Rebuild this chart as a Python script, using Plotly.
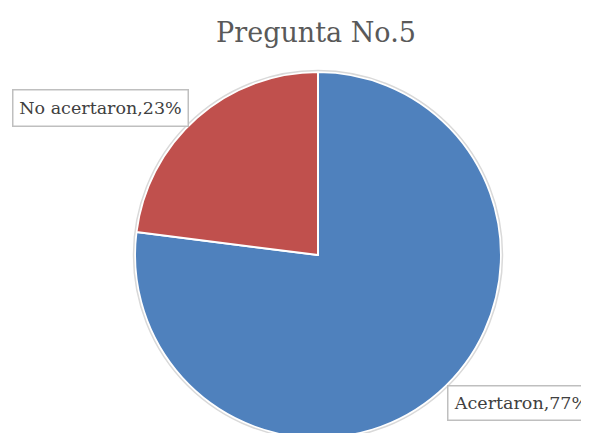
import plotly.graph_objects as go

W, H = 589, 433
OFF = 8  # the page body margin pushes the figure 8px right and down

labels = ["Acertaron", "No acertaron"]
values = [77, 23]
colors = ["#4F81BD", "#C0504D"]

# pie geometry in window pixels (the original pie is cropped at the bottom edge)
cx, cy, r = 318 - OFF, 255 - OFF, 183

fig = go.Figure(
    go.Pie(
        labels=labels,
        values=values,
        sort=False,
        direction="clockwise",
        rotation=0,
        marker=dict(colors=colors, line=dict(color="white", width=2)),
        textinfo="none",
        hoverinfo="label+percent",
        domain=dict(x=[(cx - r) / W, (cx + r) / W], y=[(H - cy - r) / H, (H - cy + r) / H]),
        showlegend=False,
    )
)

# thin gray ring round the pie
fig.add_shape(
    type="circle", xref="paper", yref="paper",
    x0=(cx - r - 1.5) / W, x1=(cx + r + 1.5) / W,
    y0=(H - cy - r - 1.5) / H, y1=(H - cy + r + 1.5) / H,
    line=dict(color="#D9D9D9", width=1.5),
)

total = sum(values)
# top-left corner of each label box, box width, box height
label_box = {"No acertaron": (12, 89, 174, 35), "Acertaron": (447, 385, 145, 33)}
for lab, val in zip(labels, values):
    bx, by, bw, bh = label_box[lab]
    fig.add_annotation(
        text=f"{lab},{round(val / total * 100)}%",
        xref="paper", yref="paper",
        x=(bx - OFF) / W, y=1 - (by - OFF) / H,
        xanchor="left", yanchor="top",
        width=bw, height=bh, align="center", valign="middle",
        showarrow=False,
        font=dict(family="DejaVu Serif", size=17.5, color="#404040"),
        bordercolor="#BFBFBF", borderwidth=1.5, borderpad=0,
        bgcolor="white",
    )

fig.update_layout(
    width=W, height=H,
    margin=dict(l=0, r=0, t=0, b=0),
    paper_bgcolor="white",
    title=dict(
        text="Pregunta No.5",
        x=(316 - OFF) / W, xanchor="center",
        y=1 - (33 - OFF) / H, yanchor="middle", yref="container",
        font=dict(family="DejaVu Serif", size=27, color="#595959"),
    ),
)

fig.write_html("out.html")
